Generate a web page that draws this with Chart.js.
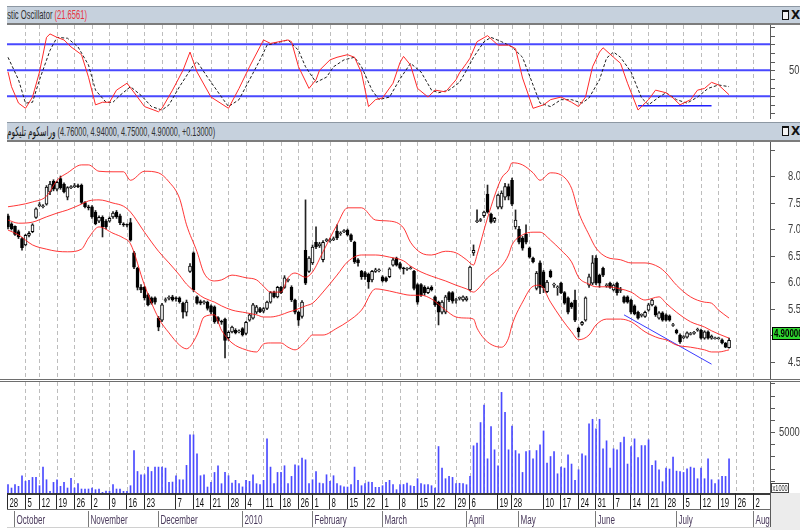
<!DOCTYPE html>
<html>
<head>
<meta charset="utf-8">
<script src="https://cdn.jsdelivr.net/npm/chart.js@4.4.1/dist/chart.umd.min.js"></script>
<style>
  html, body { margin: 0; padding: 0; background: #fff; }
  body { width: 800px; height: 530px; position: relative; overflow: hidden; font-family: "Liberation Sans", "DejaVu Sans", sans-serif; }
  canvas { position: absolute; left: 0; }
  .tbar { position: absolute; left: 7px; width: 793px; background: #c6d1dd; overflow: hidden;
          border-top: 1px solid #8d98a3; border-bottom: 2px solid #7c7c7c; }
  .tin { position: absolute; left: 0; top: 0; white-space: nowrap; font-size: 13px; line-height: 16px; color: #303030; transform-origin: 0 0; }
  .btn { position: absolute; left: 775px; top: 3px; width: 7px; height: 10px; box-sizing: border-box;
         border: 1px solid #111; border-top-width: 2px; background: #f4f4f4; }
  .btnx { position: absolute; left: 784px; top: 0; font: bold 12px "DejaVu Sans", sans-serif; color: #111; line-height: 16px; }
  #sep { position: absolute; left: 0; top: 379px; width: 800px; height: 1px; border-top: 1px solid #6e6e6e; border-bottom: 1px solid #6e6e6e; }
</style>
</head>
<body>
<div class="tbar" style="top:6px;height:16px">
  <div class="tin" id="t1in"><span id="t1pre">Stocha</span><span id="t1vis">stic Oscillator <span style="color:#e8343c">(21.6561)</span></span></div>
  <div class="btn"></div><div class="btnx">X</div>
</div>
<canvas id="cStoch" width="800" height="94" style="top:25px;width:800px;height:94px"></canvas>
<div class="tbar" style="top:122px;height:17px">
  <div class="tin" id="t2in" style="line-height:17px"><bdi style="color:#111">وراسکوم تلیکوم</bdi> (4.76000, 4.94000, 4.75000, 4.90000, +0.13000)</div>
  <div class="btn"></div><div class="btnx" style="line-height:17px">X</div>
</div>
<canvas id="cPrice" width="800" height="238" style="top:142px;width:800px;height:238px"></canvas>
<div id="sep"></div>
<canvas id="cVol" width="800" height="148" style="top:382px;width:800px;height:148px"></canvas>
<script>
// daily candles, index 0 = 28 Sep 2009
const opens = [7.25,7.10,7.05,6.95,6.82,6.70,6.88,6.95,7.22,7.45,
  7.43,7.47,7.70,7.90,7.75,7.95,7.85,7.60,7.78,7.80,
  7.82,7.83,7.50,7.42,7.42,7.32,7.15,7.22,7.15,7.15,
  7.23,7.32,7.25,7.10,7.08,7.12,6.55,6.26,5.90,5.90,
  5.76,5.70,5.70,5.32,5.28,5.66,5.70,5.72,5.70,5.70,
  5.60,5.43,6.20,6.55,5.72,5.63,5.62,5.62,5.55,5.53,
  5.33,5.25,5.30,4.95,5.06,5.09,5.07,5.12,5.03,5.28,
  5.32,5.43,5.50,5.45,5.50,5.62,5.80,5.72,5.90,5.90,
  6.04,5.90,5.66,5.43,5.35,6.60,6.20,6.36,6.75,6.68,
  6.42,6.79,6.79,6.80,6.96,6.92,6.96,6.98,6.89,6.75,
  6.42,6.20,6.18,6.15,6.04,6.20,6.22,6.10,6.08,6.10,
  6.32,6.45,6.35,6.26,6.25,6.26,6.20,5.95,5.95,5.90,
  5.80,5.90,5.72,5.62,5.43,5.43,5.80,5.80,5.66,5.70,
  5.66,5.66,5.85,6.55,7.15,7.17,7.25,7.66,7.28,7.15,
  7.41,7.41,7.60,7.80,7.92,7.04,7.00,6.83,6.90,6.64,
  6.45,5.88,6.36,6.19,5.82,6.20,5.95,5.90,5.98,5.80,
  5.70,5.60,5.66,5.13,5.20,5.28,5.94,5.98,6.45,6.13,
  6.26,5.94,5.98,5.85,5.98,5.85,5.72,5.72,5.66,5.55,
  5.43,5.38,5.35,5.47,5.57,5.53,5.32,5.42,5.38,5.36,
  5.19,5.09,5.00,4.96,4.96,5.02,5.04,5.10,5.09,4.94,
  5.06,4.94,4.94,4.94,4.91,4.85,4.76];
const highs = [7.28,7.12,7.06,6.98,6.84,6.90,6.95,7.10,7.40,7.50,
  7.46,7.82,7.90,7.93,7.90,8.00,7.87,7.80,7.82,7.86,
  7.85,7.85,7.52,7.45,7.44,7.35,7.25,7.25,7.18,7.23,
  7.33,7.35,7.28,7.12,7.10,7.20,6.58,6.28,5.95,5.92,
  5.78,5.72,5.72,5.35,5.60,5.70,5.74,5.75,5.72,5.72,
  5.62,5.66,6.35,6.57,5.74,5.66,5.65,5.64,5.57,5.55,
  5.35,5.28,5.32,5.08,5.17,5.12,5.10,5.14,5.26,5.40,
  5.60,5.56,5.52,5.52,5.64,5.82,5.83,5.92,5.92,6.12,
  6.06,5.93,5.68,5.45,5.65,7.55,6.48,6.70,7.04,6.75,
  6.78,6.82,6.83,6.85,7.08,6.95,6.99,7.00,6.91,6.77,
  6.44,6.22,6.20,6.17,6.22,6.26,6.25,6.12,6.10,6.27,
  6.45,6.47,6.37,6.28,6.27,6.29,6.22,5.97,5.97,5.93,
  5.91,5.93,5.74,5.64,5.65,5.75,5.82,5.82,5.69,5.72,
  5.74,5.73,6.30,6.70,7.36,7.20,7.34,7.83,7.30,7.22,
  7.66,7.72,7.86,7.85,7.96,7.36,7.05,6.86,7.08,6.66,
  6.47,6.20,6.40,6.22,6.03,6.23,5.98,5.93,6.00,5.82,
  5.72,5.62,5.85,5.15,5.26,5.72,6.15,6.50,6.50,6.15,
  6.28,5.97,6.00,5.96,6.00,5.90,5.74,5.74,5.68,5.57,
  5.45,5.40,5.45,5.60,5.68,5.55,5.44,5.44,5.40,5.38,
  5.22,5.11,5.02,4.99,5.06,5.05,5.07,5.13,5.11,5.08,
  5.08,5.00,4.96,4.96,4.93,4.86,4.94];
const lows = [7.00,6.98,6.88,6.82,6.60,6.68,6.85,6.93,7.20,7.42,
  7.40,7.45,7.65,7.72,7.72,7.75,7.68,7.55,7.76,7.78,
  7.78,7.48,7.40,7.36,7.20,7.08,7.12,6.85,7.00,7.13,
  7.20,7.20,7.08,7.05,7.04,6.77,6.25,5.85,5.80,5.66,
  5.55,5.58,5.58,5.08,5.25,5.62,5.66,5.64,5.64,5.60,
  5.32,5.36,6.18,5.82,5.58,5.57,5.58,5.47,5.40,5.22,
  5.22,5.20,4.57,4.90,5.04,5.02,5.04,4.98,5.00,5.26,
  5.30,5.40,5.42,5.42,5.48,5.60,5.70,5.70,5.78,5.88,
  6.00,5.63,5.40,5.18,5.32,5.95,6.18,6.33,6.63,6.65,
  6.38,6.76,6.75,6.78,6.80,6.88,6.93,6.87,6.76,6.35,
  6.30,6.05,6.05,5.88,6.00,6.18,6.19,6.00,6.00,6.08,
  6.30,6.30,6.24,6.15,6.22,6.24,5.85,5.58,5.73,5.75,
  5.78,5.83,5.54,5.19,5.40,5.40,5.63,5.60,5.60,5.66,
  5.64,5.64,5.83,6.50,7.12,7.14,7.22,7.30,7.11,7.12,
  7.38,7.38,7.55,7.55,7.44,7.00,6.72,6.60,6.72,6.45,
  6.36,5.85,5.78,5.80,5.80,6.08,5.90,5.75,5.78,5.58,
  5.40,5.50,5.25,4.96,5.18,5.26,5.90,5.95,5.95,5.90,
  6.10,5.90,5.88,5.83,5.75,5.80,5.60,5.60,5.40,5.38,
  5.30,5.34,5.33,5.45,5.55,5.35,5.30,5.26,5.26,5.26,
  5.16,5.02,4.84,4.93,4.94,5.00,5.01,5.07,4.92,4.92,
  4.92,4.92,4.92,4.92,4.83,4.76,4.75];
const closes = [7.04,7.00,6.90,6.85,6.65,6.88,6.92,7.08,7.38,7.45,
  7.43,7.79,7.85,7.75,7.88,7.78,7.70,7.78,7.80,7.82,
  7.80,7.50,7.42,7.40,7.23,7.10,7.22,7.04,7.04,7.20,
  7.30,7.23,7.12,7.08,7.07,6.79,6.28,5.90,5.85,5.70,
  5.57,5.60,5.62,5.15,5.57,5.66,5.70,5.66,5.68,5.63,
  5.43,5.62,6.30,5.85,5.60,5.60,5.62,5.50,5.43,5.25,
  5.26,5.24,4.90,5.05,5.15,5.04,5.07,5.00,5.24,5.38,
  5.57,5.53,5.44,5.50,5.62,5.80,5.72,5.90,5.80,6.08,
  6.04,5.66,5.43,5.28,5.62,5.98,6.45,6.66,6.66,6.72,
  6.75,6.79,6.80,6.82,6.83,6.92,6.96,6.89,6.79,6.38,
  6.36,6.10,6.10,6.00,6.20,6.23,6.22,6.02,6.02,6.25,
  6.42,6.32,6.26,6.25,6.25,6.26,5.88,5.62,5.76,5.80,
  5.88,5.85,5.57,5.43,5.62,5.72,5.66,5.64,5.66,5.70,
  5.72,5.70,6.28,6.60,7.15,7.17,7.32,7.32,7.13,7.20,
  7.64,7.68,7.80,7.62,7.47,7.17,6.75,6.64,6.75,6.47,
  6.38,6.17,5.90,5.89,6.00,6.10,5.95,5.90,5.80,5.60,
  5.43,5.53,5.28,5.06,5.24,5.70,6.10,6.36,5.98,5.98,
  6.13,5.94,5.90,5.94,5.80,5.85,5.62,5.62,5.43,5.40,
  5.32,5.38,5.43,5.57,5.66,5.38,5.42,5.28,5.28,5.28,
  5.19,5.04,4.87,4.96,5.04,5.02,5.04,5.10,4.94,5.06,
  4.94,4.98,4.94,4.94,4.85,4.77,4.90];
// volume (x1000)
const volumes = [6830,4100,6830,5460,14200,9560,10370,12830,12830,6000,
  21300,10900,1370,8740,10900,5460,8740,4100,12000,4100,
  7650,3280,3280,3280,4100,2730,3280,550,1500,1370,
  6830,3280,3280,1370,1370,6000,34900,17700,15000,15000,
  21300,17700,21300,21300,21300,20500,8740,9000,14200,10900,
  10900,22700,47800,47800,32200,14200,15000,4900,8740,16900,
  22400,7650,16900,14200,8200,10400,7650,5000,10400,9560,
  15000,7650,6830,10400,44500,21300,7650,16900,16900,22400,
  7650,13650,23200,22400,28700,27300,7650,10900,17700,8200,
  7650,15000,9560,14200,7650,6000,5000,4900,6830,21300,
  10400,6000,7650,9000,8740,4640,4640,6000,8740,10400,
  6830,2730,
  6830,7000,8200,6000,5460,11740,7650,6830,6830,6000,
  4100,38200,20500,11740,13650,12830,7650,8000,7650,6830,
  13650,38800,41000,57900,72300,28100,54600,35500,22400,82700,
  66300,35500,55100,34900,32200,16900,34100,34900,28100,34900,
  39600,51000,24600,30000,34100,15800,21300,20500,31400,23800,
  10400,19100,32200,30600,56800,60600,52700,60600,36300,42900,
  20500,36300,35500,41500,45900,23800,38200,44500,29200,39000,
  39000,43700,22700,26500,19100,9300,20500,19700,29500,18000,
  17700,16900,19900,21300,20500,11740,20500,11740,28100,10900,
  7650,10900,13650,13650,28100];

// Bollinger bands
const bandIdx = [0,3,7,11,14,17,21,23,26,30,33,35,39,43,46,49,51,54,56,59,
  61,64,68,71,73,75,78,80,82,85,87,90,94,97,101,105,109,113,115,118,
  121,125,128,131,133,134,137,141,143,144,147,150,152,155,158,161,163,166,168,171,
  175,178,182,186,188,191,195,199,201,203,206];
const bandUpper = [7.42,7.45,7.51,7.62,7.92,8.06,8.21,8.21,8.09,8.08,8.08,7.92,8.09,8.06,7.89,7.58,7.08,6.57,6.17,6.02,
  6.04,6.13,6.08,6.04,5.92,5.81,5.81,6.08,6.17,6.09,6.19,6.57,7.08,7.40,7.40,7.17,7.15,7.02,6.75,6.55,
  6.51,6.58,6.55,6.42,6.32,6.51,7.21,7.96,8.11,8.25,8.21,8.06,7.92,8.06,8.02,7.77,7.32,6.89,6.64,6.47,
  6.42,6.36,6.36,6.28,6.17,5.94,5.72,5.62,5.60,5.47,5.32];
const bandMiddle = [7.17,7.11,7.13,7.23,7.30,7.36,7.47,7.53,7.55,7.49,7.43,7.32,6.94,6.58,6.36,6.13,5.96,5.79,5.70,5.62,
  5.55,5.47,5.42,5.38,5.34,5.34,5.38,5.43,5.47,5.55,5.60,5.81,6.13,6.38,6.51,6.51,6.47,6.40,6.30,6.19,
  6.11,6.02,5.94,5.87,5.81,5.85,6.08,6.30,6.51,6.70,6.89,6.94,6.94,6.79,6.60,6.38,6.09,5.96,5.91,5.91,
  5.87,5.81,5.66,5.72,5.60,5.43,5.25,5.15,5.08,5.02,4.94];
const bandLower = [6.98,6.89,6.70,6.62,6.58,6.57,6.62,6.83,7.04,6.92,6.83,6.72,5.94,5.32,5.04,4.81,4.74,5.00,5.34,5.38,
  5.09,4.85,4.72,4.68,4.83,4.85,4.85,4.77,4.72,4.87,5.00,5.00,5.13,5.25,5.47,5.87,5.83,5.77,5.75,5.75,
  5.68,5.47,5.34,5.32,5.30,5.13,4.87,4.77,4.94,5.19,5.62,5.92,5.94,5.62,5.32,5.06,4.91,5.00,5.19,5.30,
  5.30,5.25,5.06,4.94,4.91,4.81,4.77,4.72,4.68,4.68,4.72];
const trendIdx = [176, 201];
const trendVals = [5.38, 4.45];

// stochastic %K (red) and %D (dashed)
const kIdx = [0,1,3,5,7,9,11,12,14,16,18,21,23,25,27,29,31,34,37,39,
  43,44,47,50,52,54,58,63,66,69,73,75,80,81,83,86,88,89,92,94,
  97,99,101,103,105,107,110,112,113,115,117,120,122,125,128,129,131,132,134,137,
  140,143,145,147,150,153,155,158,161,163,165,167,169,170,173,175,177,180,183,185,
  188,190,192,195,197,199,201,203,206];
const kVals = [48,31,12,6,19,48,88,92,88,85,77,68,42,10,13,13,27,35,19,8,
  2,6,27,50,71,48,19,6,29,54,85,81,85,83,54,29,39,50,62,65,
  68,65,47,8,16,18,35,59,66,56,29,19,27,25,39,47,58,64,83,90,
  79,79,75,41,6,10,16,19,13,8,19,54,71,76,65,58,35,4,16,27,
  24,18,10,16,27,29,36,33,21.66];
const dIdx = [0,3,5,7,9,12,14,17,20,23,25,28,30,32,35,38,41,44,46,49,
  53,54,57,61,63,66,69,72,74,78,80,83,85,88,91,93,96,99,101,104,
  106,109,112,115,118,121,123,126,129,131,133,136,138,141,144,147,150,152,155,158,
  161,164,166,169,171,173,175,178,181,183,186,188,191,194,197,200,203,206];
const dVals = [65,39,12,13,39,73,88,87,77,56,27,13,13,21,31,21,8,4,10,31,
  56,60,42,19,8,16,39,62,79,83,85,73,54,36,42,54,62,65,54,27,
  16,19,40,58,48,27,24,27,36,50,65,83,88,83,77,65,33,12,8,16,
  16,12,18,39,64,71,65,48,18,10,19,24,16,12,19,29,33,31];
const stochLevels = [80, 50, 20];
const supportIdx = [180, 201];
const supportVals = [9, 9];

// axis
const weekIdx = [0,5,9,14,19,24,29,34,39,44,48,53,58,63,68,73,78,83,87,92,
  97,102,107,112,117,122,128,132,136,140,144,149,153,158,163,168,173,178,183,188,
  193,198,203,208,213];
const weekLabels = ['28','5','12','19','26','2','9','16','23','','7','14','21','28','4','11','18','26','1','8',
  '15','22','1','8','15','22','29','6','','19','28','','10','17','24','31','7','14','21','28',
  '5','12','19','26','2'];
const monthIdx = [2,23,43,67,87,107,131,146,168,191,213];
const monthLabels = ['October','November','December','2010','February','March','April','May','June','July','August'];
const stochTicks = [0,10,20,30,40,50,60,70,80,90,100];
const priceTicks = [4.5,5,5.5,6,6.5,7,7.5,8,8.5];
const volTicks = [0,10000,20000,30000,40000,50000,60000,70000,80000,90000];

const X_MIN = -0.286, X_MAX = 217.7;
const FONT = '"Liberation Sans", Arial, sans-serif';

function squeezed(ctx, txt, x, y, sx) {
  ctx.save();
  ctx.translate(x, y);
  ctx.scale(sx, 1);
  ctx.fillText(txt, 0, 0);
  ctx.restore();
}

function rightAxis(ticks, label, gap) {
  return {
    id: 'rightAxis',
    afterDraw(chart) {
      const { ctx, chartArea: a } = chart;
      const y = chart.scales.y;
      ctx.save();
      ctx.strokeStyle = '#5a5a5a';
      ctx.lineWidth = 1;
      ctx.beginPath();
      ctx.moveTo(a.right + 0.5, a.top);
      ctx.lineTo(a.right + 0.5, a.bottom);
      ctx.stroke();
      ctx.font = '12px ' + FONT;
      ctx.fillStyle = '#3c3c3c';
      ctx.textBaseline = 'middle';
      ticks.forEach(v => {
        const py = Math.round(y.getPixelForValue(v)) + 0.5;
        ctx.beginPath();
        ctx.moveTo(a.right, py);
        ctx.lineTo(a.right + 5, py);
        ctx.stroke();
        const t = label(v);
        if (t) squeezed(ctx, t, a.right + gap, py, 0.78);
      });
      ctx.restore();
    }
  };
}

const lastPrice = {
  id: 'lastPrice',
  afterDraw(chart) {
    const { ctx, chartArea: a, scales: { y } } = chart;
    const last = closes[closes.length - 1];
    const py = Math.round(y.getPixelForValue(last));
    ctx.save();
    ctx.fillStyle = '#30d830';
    ctx.fillRect(a.right + 2, py - 13, 30, 13);
    ctx.strokeStyle = '#000';
    ctx.lineWidth = 1;
    ctx.strokeRect(a.right + 2.5, py - 12.5, 30, 12);
    ctx.fillStyle = '#000';
    ctx.font = 'bold 11px ' + FONT;
    ctx.textBaseline = 'middle';
    squeezed(ctx, last.toFixed(5), a.right + 4, py - 6, 0.72);
    ctx.restore();
  }
};

const dateAxis = {
  id: 'dateAxis',
  afterDraw(chart) {
    const { ctx, chartArea: a, scales: { x } } = chart;
    const H = chart.height, top = a.bottom;
    ctx.save();
    ctx.fillStyle = '#ececec';
    ctx.fillRect(a.right, top, chart.width - a.right, H - top);
    // x1000 box
    ctx.strokeStyle = '#444';
    ctx.lineWidth = 1;
    ctx.strokeRect(a.right + 1.5, top - 9.5, 17, 9);
    ctx.fillStyle = '#333';
    ctx.font = '9px ' + FONT;
    ctx.textBaseline = 'alphabetic';
    squeezed(ctx, 'x1000', a.right + 2.5, top - 2, 0.62);
    ctx.strokeStyle = '#5a5a5a';
    ctx.beginPath();
    ctx.moveTo(a.right + 0.5, top);
    ctx.lineTo(a.right + 0.5, H - 3);
    ctx.stroke();

    ctx.beginPath();
    ctx.rect(a.left, top, a.right - a.left, H - top);
    ctx.clip();
    ctx.strokeStyle = '#3a3a3a';
    ctx.lineWidth = 2;
    ctx.beginPath();
    ctx.moveTo(a.left, top + 1);
    ctx.lineTo(a.right, top + 1);
    ctx.stroke();
    ctx.lineWidth = 1;
    ctx.strokeStyle = '#6a6a6a';
    ctx.beginPath();
    ctx.moveTo(a.left, top + 16.5);
    ctx.lineTo(a.right, top + 16.5);
    ctx.stroke();
    ctx.strokeStyle = '#d0d0d0';
    ctx.beginPath();
    ctx.moveTo(a.left, top + 34.5);
    ctx.lineTo(a.right, top + 34.5);
    ctx.stroke();

    ctx.font = '13px ' + FONT;
    ctx.fillStyle = '#111';
    weekIdx.forEach((v, k) => {
      if (!weekLabels[k]) return;
      const px = Math.round(x.getPixelForValue(v)) - 0.5;
      ctx.strokeStyle = '#2a2a2a';
      ctx.beginPath();
      ctx.moveTo(px, top);
      ctx.lineTo(px, top + 16);
      ctx.stroke();
      squeezed(ctx, weekLabels[k], px + 2, top + 14, 0.6);
    });
    ctx.fillStyle = '#4a3a5c';
    monthIdx.forEach((v, k) => {
      const px = Math.round(x.getPixelForValue(v)) - 0.5;
      ctx.strokeStyle = '#7a7a7a';
      ctx.beginPath();
      ctx.moveTo(px, top + 18);
      ctx.lineTo(px, top + 34);
      ctx.stroke();
      squeezed(ctx, monthLabels[k], px + 2, top + 31, 0.62);
    });
    ctx.restore();
  }
};

function xScale() {
  return {
    type: 'linear', min: X_MIN, max: X_MAX, offset: false, bounds: 'data',
    afterBuildTicks: s => { s.ticks = weekIdx.filter(v => v > 0).map(v => ({ value: v })); },
    ticks: { display: false, autoSkip: false },
    grid: { color: '#bdbdbd', lineWidth: 1, drawTicks: false, offset: false },
    border: { display: false, dash: [4, 3] }
  };
}

function baseOptions(yMin, yMax, bottomPad) {
  return {
    responsive: false, animation: false, events: [], devicePixelRatio: 1,
    layout: { padding: { left: 7, right: 30, top: 0, bottom: bottomPad } },
    plugins: { legend: { display: false }, tooltip: { enabled: false } },
    scales: { x: xScale(), y: { display: false, min: yMin, max: yMax } }
  };
}

const pts = (xs, ys) => xs.map((x, i) => ({ x, y: ys[i] }));

// stochastic panel
new Chart(document.getElementById('cStoch'), {
  type: 'line',
  data: {
    datasets: [
      { data: pts(kIdx, kVals), borderColor: '#ff2a2a', borderWidth: 1, pointRadius: 0, tension: 0 },
      { data: pts(dIdx, dVals), borderColor: '#1e1e1e', borderWidth: 1, borderDash: [3, 2], pointRadius: 0, tension: 0 },
      ...stochLevels.map(l => ({ data: [{ x: X_MIN, y: l }, { x: X_MAX, y: l }], borderColor: '#4848ff', borderWidth: 2, pointRadius: 0 })),
      { data: pts(supportIdx, supportVals), borderColor: '#2020ff', borderWidth: 1.5, pointRadius: 0 }
    ]
  },
  options: baseOptions(-6.36, 102.3, 0),
  plugins: [rightAxis(stochTicks, v => (v === 50 ? '50' : ''), 19)]
});

// price panel
const upColor = opens.map((o, i) => (closes[i] >= o ? '#ffffff' : '#000000'));
const bodies = opens.map((o, i) => {
  const c = closes[i];
  return { x: i, y: Math.abs(c - o) < 0.01 ? [o - 0.009, o + 0.009] : [o, c] };
});
new Chart(document.getElementById('cPrice'), {
  type: 'bar',
  data: {
    datasets: [
      { type: 'line', data: pts(bandIdx, bandUpper), borderColor: 'rgba(255,20,20,0.85)', borderWidth: 1, pointRadius: 0, cubicInterpolationMode: 'monotone' },
      { type: 'line', data: pts(bandIdx, bandMiddle), borderColor: 'rgba(255,20,20,0.85)', borderWidth: 1, pointRadius: 0, cubicInterpolationMode: 'monotone' },
      { type: 'line', data: pts(bandIdx, bandLower), borderColor: 'rgba(255,20,20,0.85)', borderWidth: 1, pointRadius: 0, cubicInterpolationMode: 'monotone' },
      { type: 'line', data: pts(trendIdx, trendVals), borderColor: '#3a3aff', borderWidth: 1, pointRadius: 0 },
      { data: bodies, backgroundColor: upColor, borderColor: '#000', borderWidth: 1, borderSkipped: false, barThickness: 3, grouped: false },
      { data: highs.map((h, i) => ({ x: i, y: [lows[i], h] })), backgroundColor: '#222', barThickness: 1, grouped: false }
    ]
  },
  options: baseOptions(4.151, 8.642, 0),
  plugins: [rightAxis(priceTicks, v => (v === 8.5 ? '' : v.toFixed(1)), 18), lastPrice]
});

// volume panel with date axis
new Chart(document.getElementById('cVol'), {
  type: 'bar',
  data: {
    datasets: [
      { data: volumes.map((v, i) => ({ x: i, y: v })), backgroundColor: '#4a4aff', barThickness: 1, grouped: false }
    ]
  },
  options: baseOptions(0, 91230, 37),
  plugins: [rightAxis(volTicks, v => (v === 50000 ? '50000' : ''), 9), dateAxis]
});

function fitTitles() {
  const pre = document.getElementById('t1pre');
  const vis = document.getElementById('t1vis');
  const s1 = 80 / vis.offsetWidth;
  document.getElementById('t1in').style.transform = `scaleX(${s1}) translateX(${-pre.offsetWidth}px)`;
  const t2 = document.getElementById('t2in');
  t2.style.transform = `scaleX(${208 / t2.offsetWidth})`;
}
fitTitles();
document.fonts.ready.then(fitTitles);
</script>
</body>
</html>
